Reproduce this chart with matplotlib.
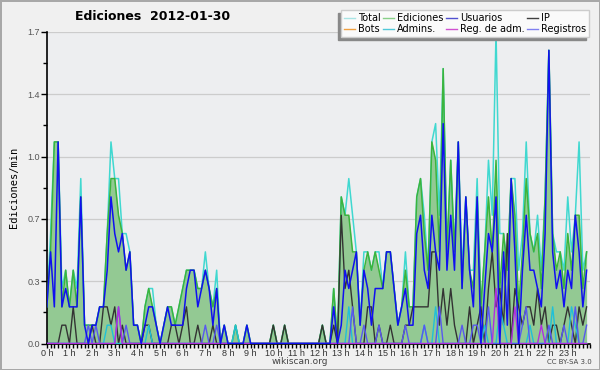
import matplotlib
matplotlib.use("Agg")
import matplotlib.pyplot as plt
import numpy as np
from matplotlib.lines import Line2D
from matplotlib.ticker import FixedLocator, MultipleLocator

# Ediciones por minuto, intervalos de 10 minutos (6 por hora)
total = [
    0.2, 0.6, 1.1, 1.1, 0.3, 0.4,   0.2, 0.4, 0.3, 0.9, 0.1, 0.1,
    0.1, 0.1, 0.2, 0.2, 0.6, 1.1,   0.9, 0.9, 0.6, 0.6, 0.5, 0.1,
    0.1, 0.0, 0.2, 0.3, 0.3, 0.1,   0.0, 0.1, 0.2, 0.2, 0.1, 0.2,
    0.3, 0.4, 0.4, 0.4, 0.3, 0.3,   0.5, 0.3, 0.2, 0.4, 0.0, 0.1,
    0.0, 0.0, 0.1, 0.0, 0.0, 0.1,   0.0, 0.0, 0.0, 0.0, 0.0, 0.0,
    0.1, 0.0, 0.0, 0.1, 0.0, 0.0,   0.0, 0.0, 0.0, 0.0, 0.0, 0.0,
    0.0, 0.1, 0.0, 0.0, 0.3, 0.0,   0.8, 0.7, 0.9, 0.7, 0.5, 0.1,
    0.5, 0.5, 0.4, 0.5, 0.5, 0.3,   0.5, 0.5, 0.3, 0.1, 0.2, 0.5,
    0.2, 0.2, 0.8, 0.9, 0.7, 0.4,   1.1, 1.2, 0.7, 1.5, 0.5, 1.0,
    0.5, 1.1, 0.4, 0.8, 0.4, 0.4,   0.9, 0.2, 0.5, 1.0, 0.7, 1.7,
    0.6, 0.6, 0.4, 0.9, 0.9, 0.4,   0.6, 1.1, 0.6, 0.5, 0.7, 0.4,
    0.8, 1.6, 0.6, 0.5, 0.5, 0.4,   0.8, 0.5, 0.7, 1.1, 0.4, 0.5,
]
ediciones = [
    0.2, 0.5, 1.1, 1.1, 0.2, 0.4,   0.2, 0.4, 0.2, 0.8, 0.1, 0.1,
    0.1, 0.1, 0.2, 0.2, 0.6, 0.9,   0.9, 0.7, 0.6, 0.4, 0.5, 0.1,
    0.1, 0.0, 0.2, 0.3, 0.2, 0.1,   0.0, 0.1, 0.2, 0.2, 0.1, 0.2,
    0.3, 0.4, 0.4, 0.4, 0.3, 0.3,   0.4, 0.3, 0.2, 0.3, 0.0, 0.1,
    0.0, 0.0, 0.1, 0.0, 0.0, 0.1,   0.0, 0.0, 0.0, 0.0, 0.0, 0.0,
    0.1, 0.0, 0.0, 0.1, 0.0, 0.0,   0.0, 0.0, 0.0, 0.0, 0.0, 0.0,
    0.0, 0.1, 0.0, 0.0, 0.3, 0.0,   0.8, 0.7, 0.7, 0.5, 0.5, 0.1,
    0.4, 0.5, 0.4, 0.5, 0.4, 0.3,   0.5, 0.5, 0.3, 0.1, 0.2, 0.4,
    0.2, 0.2, 0.8, 0.9, 0.6, 0.4,   1.1, 1.0, 0.5, 1.5, 0.5, 1.0,
    0.5, 1.1, 0.3, 0.8, 0.4, 0.3,   0.8, 0.2, 0.5, 0.8, 0.5, 1.0,
    0.3, 0.6, 0.4, 0.9, 0.7, 0.2,   0.5, 0.9, 0.6, 0.5, 0.6, 0.3,
    0.8, 1.6, 0.6, 0.4, 0.5, 0.3,   0.6, 0.4, 0.7, 0.7, 0.3, 0.5,
]
usuarios = [
    0.2, 0.5, 0.2, 1.1, 0.2, 0.3,   0.2, 0.2, 0.2, 0.8, 0.1, 0.0,
    0.1, 0.1, 0.2, 0.2, 0.4, 0.8,   0.6, 0.5, 0.6, 0.4, 0.5, 0.1,
    0.1, 0.0, 0.1, 0.2, 0.2, 0.1,   0.0, 0.1, 0.2, 0.1, 0.1, 0.1,
    0.1, 0.3, 0.4, 0.4, 0.2, 0.3,   0.4, 0.3, 0.1, 0.3, 0.0, 0.1,
    0.0, 0.0, 0.0, 0.0, 0.0, 0.1,   0.0, 0.0, 0.0, 0.0, 0.0, 0.0,
    0.0, 0.0, 0.0, 0.0, 0.0, 0.0,   0.0, 0.0, 0.0, 0.0, 0.0, 0.0,
    0.0, 0.0, 0.0, 0.0, 0.2, 0.0,   0.1, 0.4, 0.3, 0.4, 0.5, 0.1,
    0.4, 0.3, 0.1, 0.3, 0.3, 0.3,   0.5, 0.5, 0.3, 0.1, 0.2, 0.3,
    0.1, 0.1, 0.6, 0.7, 0.4, 0.3,   0.7, 0.5, 0.4, 1.2, 0.4, 0.7,
    0.4, 1.1, 0.3, 0.8, 0.4, 0.2,   0.8, 0.0, 0.3, 0.6, 0.5, 0.8,
    0.0, 0.5, 0.1, 0.9, 0.5, 0.0,   0.4, 0.7, 0.4, 0.4, 0.3, 0.2,
    0.6, 1.6, 0.5, 0.3, 0.4, 0.2,   0.4, 0.3, 0.7, 0.5, 0.2, 0.4,
]
ip = [
    0.0, 0.0, 0.0, 0.0, 0.1, 0.1,   0.0, 0.2, 0.0, 0.0, 0.0, 0.0,
    0.1, 0.0, 0.0, 0.2, 0.2, 0.1,   0.2, 0.0, 0.1, 0.0, 0.0, 0.0,
    0.0, 0.0, 0.1, 0.1, 0.0, 0.0,   0.0, 0.0, 0.0, 0.1, 0.1, 0.0,
    0.1, 0.2, 0.0, 0.0, 0.1, 0.0,   0.0, 0.0, 0.1, 0.0, 0.0, 0.0,
    0.0, 0.0, 0.0, 0.0, 0.0, 0.0,   0.0, 0.0, 0.0, 0.0, 0.0, 0.0,
    0.1, 0.0, 0.0, 0.1, 0.0, 0.0,   0.0, 0.0, 0.0, 0.0, 0.0, 0.0,
    0.0, 0.1, 0.0, 0.0, 0.1, 0.0,   0.7, 0.3, 0.4, 0.2, 0.0, 0.0,
    0.0, 0.2, 0.2, 0.0, 0.1, 0.0,   0.0, 0.1, 0.0, 0.0, 0.0, 0.1,
    0.1, 0.2, 0.2, 0.2, 0.2, 0.2,   0.5, 0.5, 0.1, 0.3, 0.1, 0.3,
    0.1, 0.0, 0.0, 0.0, 0.2, 0.0,   0.1, 0.2, 0.0, 0.3, 0.5, 0.2,
    0.3, 0.1, 0.6, 0.0, 0.3, 0.2,   0.1, 0.2, 0.2, 0.1, 0.3, 0.1,
    0.2, 0.0, 0.1, 0.1, 0.0, 0.1,   0.2, 0.1, 0.0, 0.2, 0.1, 0.2,
]
bots = [0.0] * 144
admins = [
    0.0, 0.0, 0.0, 0.0, 0.0, 0.0,   0.0, 0.0, 0.0, 0.0, 0.0, 0.0,
    0.0, 0.0, 0.0, 0.0, 0.1, 0.1,   0.0, 0.0, 0.0, 0.0, 0.0, 0.0,
    0.0, 0.0, 0.0, 0.1, 0.0, 0.0,   0.0, 0.0, 0.0, 0.0, 0.0, 0.0,
    0.0, 0.0, 0.0, 0.0, 0.0, 0.0,   0.0, 0.0, 0.0, 0.0, 0.0, 0.0,
    0.0, 0.0, 0.1, 0.0, 0.0, 0.0,   0.0, 0.0, 0.0, 0.0, 0.0, 0.0,
    0.0, 0.0, 0.0, 0.0, 0.0, 0.0,   0.0, 0.0, 0.0, 0.0, 0.0, 0.0,
    0.0, 0.0, 0.0, 0.0, 0.0, 0.0,   0.0, 0.0, 0.2, 0.0, 0.0, 0.0,
    0.0, 0.0, 0.0, 0.0, 0.0, 0.0,   0.0, 0.0, 0.0, 0.0, 0.0, 0.0,
    0.0, 0.0, 0.0, 0.0, 0.1, 0.0,   0.0, 0.2, 0.0, 0.0, 0.0, 0.0,
    0.0, 0.0, 0.0, 0.0, 0.0, 0.0,   0.0, 0.0, 0.1, 0.0, 0.0, 0.0,
    0.2, 0.1, 0.0, 0.0, 0.0, 0.0,   0.0, 0.0, 0.1, 0.0, 0.0, 0.0,
    0.0, 0.0, 0.2, 0.0, 0.0, 0.0,   0.0, 0.2, 0.1, 0.0, 0.0, 0.0,
]
reg_adm = [
    0.0, 0.0, 0.0, 0.0, 0.0, 0.0,   0.0, 0.0, 0.0, 0.0, 0.0, 0.0,
    0.0, 0.0, 0.0, 0.0, 0.0, 0.0,   0.0, 0.2, 0.0, 0.0, 0.0, 0.0,
    0.0, 0.0, 0.0, 0.0, 0.0, 0.0,   0.0, 0.0, 0.0, 0.0, 0.0, 0.0,
    0.0, 0.0, 0.0, 0.0, 0.0, 0.0,   0.0, 0.0, 0.0, 0.0, 0.0, 0.0,
    0.0, 0.0, 0.0, 0.0, 0.0, 0.0,   0.0, 0.0, 0.0, 0.0, 0.0, 0.0,
    0.0, 0.0, 0.0, 0.0, 0.0, 0.0,   0.0, 0.0, 0.0, 0.0, 0.0, 0.0,
    0.0, 0.0, 0.0, 0.0, 0.0, 0.0,   0.0, 0.0, 0.0, 0.0, 0.0, 0.0,
    0.0, 0.0, 0.0, 0.0, 0.0, 0.0,   0.0, 0.0, 0.0, 0.0, 0.0, 0.0,
    0.0, 0.0, 0.0, 0.0, 0.0, 0.0,   0.0, 0.0, 0.0, 0.0, 0.0, 0.0,
    0.0, 0.0, 0.0, 0.0, 0.0, 0.0,   0.0, 0.0, 0.0, 0.0, 0.0, 0.3,
    0.0, 0.0, 0.0, 0.0, 0.2, 0.0,   0.0, 0.0, 0.0, 0.0, 0.0, 0.1,
    0.0, 0.0, 0.0, 0.0, 0.0, 0.0,   0.0, 0.0, 0.0, 0.0, 0.0, 0.0,
]
registros = [
    0.0, 0.0, 0.0, 0.0, 0.0, 0.0,   0.0, 0.0, 0.0, 0.0, 0.0, 0.1,
    0.0, 0.1, 0.0, 0.0, 0.0, 0.0,   0.0, 0.2, 0.0, 0.1, 0.0, 0.0,
    0.0, 0.0, 0.0, 0.0, 0.0, 0.0,   0.0, 0.0, 0.0, 0.0, 0.0, 0.0,
    0.0, 0.0, 0.0, 0.0, 0.0, 0.0,   0.1, 0.0, 0.0, 0.1, 0.0, 0.0,
    0.0, 0.0, 0.0, 0.0, 0.0, 0.0,   0.0, 0.0, 0.0, 0.0, 0.0, 0.0,
    0.0, 0.0, 0.0, 0.0, 0.0, 0.0,   0.0, 0.0, 0.0, 0.0, 0.0, 0.0,
    0.0, 0.0, 0.0, 0.0, 0.0, 0.0,   0.0, 0.0, 0.0, 0.2, 0.0, 0.0,
    0.1, 0.0, 0.0, 0.0, 0.1, 0.0,   0.0, 0.0, 0.0, 0.0, 0.0, 0.1,
    0.0, 0.0, 0.0, 0.0, 0.1, 0.0,   0.0, 0.0, 0.2, 0.0, 0.0, 0.0,
    0.0, 0.0, 0.1, 0.0, 0.0, 0.1,   0.1, 0.0, 0.0, 0.2, 0.0, 0.0,
    0.0, 0.0, 0.0, 0.0, 0.0, 0.0,   0.1, 0.2, 0.0, 0.0, 0.0, 0.0,
    0.0, 0.1, 0.0, 0.0, 0.0, 0.1,   0.0, 0.0, 0.2, 0.0, 0.0, 0.1,
]
hour_labels = ["%d h" % h for h in range(24)]

x = np.arange(len(total))

fig = plt.figure(figsize=(6, 3.7), dpi=100, facecolor="#F0F0F0",
                 edgecolor="#A8A8A8", linewidth=2)
ax = fig.add_axes([0.078, 0.0716, 0.906, 0.842])
ax.set_facecolor("#EDEEF0")
ax.set_axisbelow(True)

ax.fill_between(x, ediciones, 0, color="#93C993", lw=0, zorder=1)
ax.plot(x, total, color="#40D8D0", lw=1.1, zorder=2)
ax.plot(x, ediciones, color="#3CB43C", lw=1.1, zorder=3)
ax.plot(x, bots, color="#F0A030", lw=1.0, zorder=3)
ax.plot(x, ip, color="#333333", lw=1.0, zorder=4)
ax.plot(x, admins, color="#20C0D8", lw=1.0, zorder=4)
ax.plot(x, registros, color="#5858F0", lw=1.0, zorder=5)
ax.plot(x, reg_adm, color="#B030E0", lw=1.0, zorder=5)
ax.plot(x, usuarios, color="#1010F0", lw=1.1, zorder=6)

ax.set_xlim(0, 144)
ax.set_ylim(0, 1.7)
ax.xaxis.set_major_locator(FixedLocator(np.arange(0, 144, 6)))
ax.set_xticklabels(hour_labels, family="Liberation Sans")
ax.xaxis.set_minor_locator(MultipleLocator(1))
yt = np.linspace(0, 1.7, 6)
ax.set_yticks(yt)
ax.set_yticklabels(["%.1f" % v for v in yt], family="Liberation Sans")
ax.yaxis.set_minor_locator(FixedLocator((yt[:-1] + yt[1:]) / 2))

ax.tick_params(axis="x", which="major", direction="out", length=3, width=1,
               pad=1, labelsize=6.5, labelcolor="#333333")
ax.tick_params(axis="x", which="minor", direction="out", length=3, width=1)
ax.tick_params(axis="y", which="major", direction="out", length=4, width=1,
               pad=1, labelsize=6.5, labelcolor="#555555")
ax.tick_params(axis="y", which="minor", direction="out", length=3, width=1)
ax.grid(axis="y", which="major", color="#CCCCCC", lw=0.9)
for s in ["top", "right"]:
    ax.spines[s].set_visible(False)
for s in ["left", "bottom"]:
    ax.spines[s].set_color("black")
    ax.spines[s].set_linewidth(1.2)

ax.set_ylabel("Ediciones/min", family="DejaVu Sans Mono", fontsize=7.5,
              labelpad=6)
fig.text(0.255, 0.955, "Ediciones  2012-01-30", ha="center", va="center",
         fontsize=9, fontweight="bold")
fig.text(0.5, 0.022, "wikiscan.org", ha="center", va="center",
         fontsize=6.5, color="#444444")
fig.text(0.949, 0.022, "CC BY-SA 3.0", ha="center", va="center",
         fontsize=5, color="#444444")

# Leyenda (rellena por columnas)
names = ["Total", "Bots", "Ediciones", "Admins.", "Usuarios",
         "Reg. de adm.", "IP", "Registros"]
lcolors = ["#A8E4E4", "#F0A040", "#88D088", "#50C8D8", "#5050D0",
           "#D050D0", "#404040", "#8080F0"]
handles = [Line2D([], [], color=c, lw=1) for c in lcolors]
leg = fig.legend(handles, names, ncol=4, loc="upper right",
                 bbox_to_anchor=(0.99, 0.985), fontsize=7,
                 frameon=True, fancybox=False, framealpha=1,
                 facecolor="#FAFAFA", edgecolor="#CCCCCC",
                 borderpad=0.3, labelspacing=0.1, handlelength=1.1,
                 handletextpad=0.3, columnspacing=0.3,
                 shadow={"ox": -2, "oy": -2, "facecolor": "#888888",
                         "edgecolor": "#888888", "alpha": 1})
leg.set_zorder(10)

fig.savefig("out.png", dpi=100, facecolor=fig.get_facecolor(),
            edgecolor=fig.get_edgecolor())
